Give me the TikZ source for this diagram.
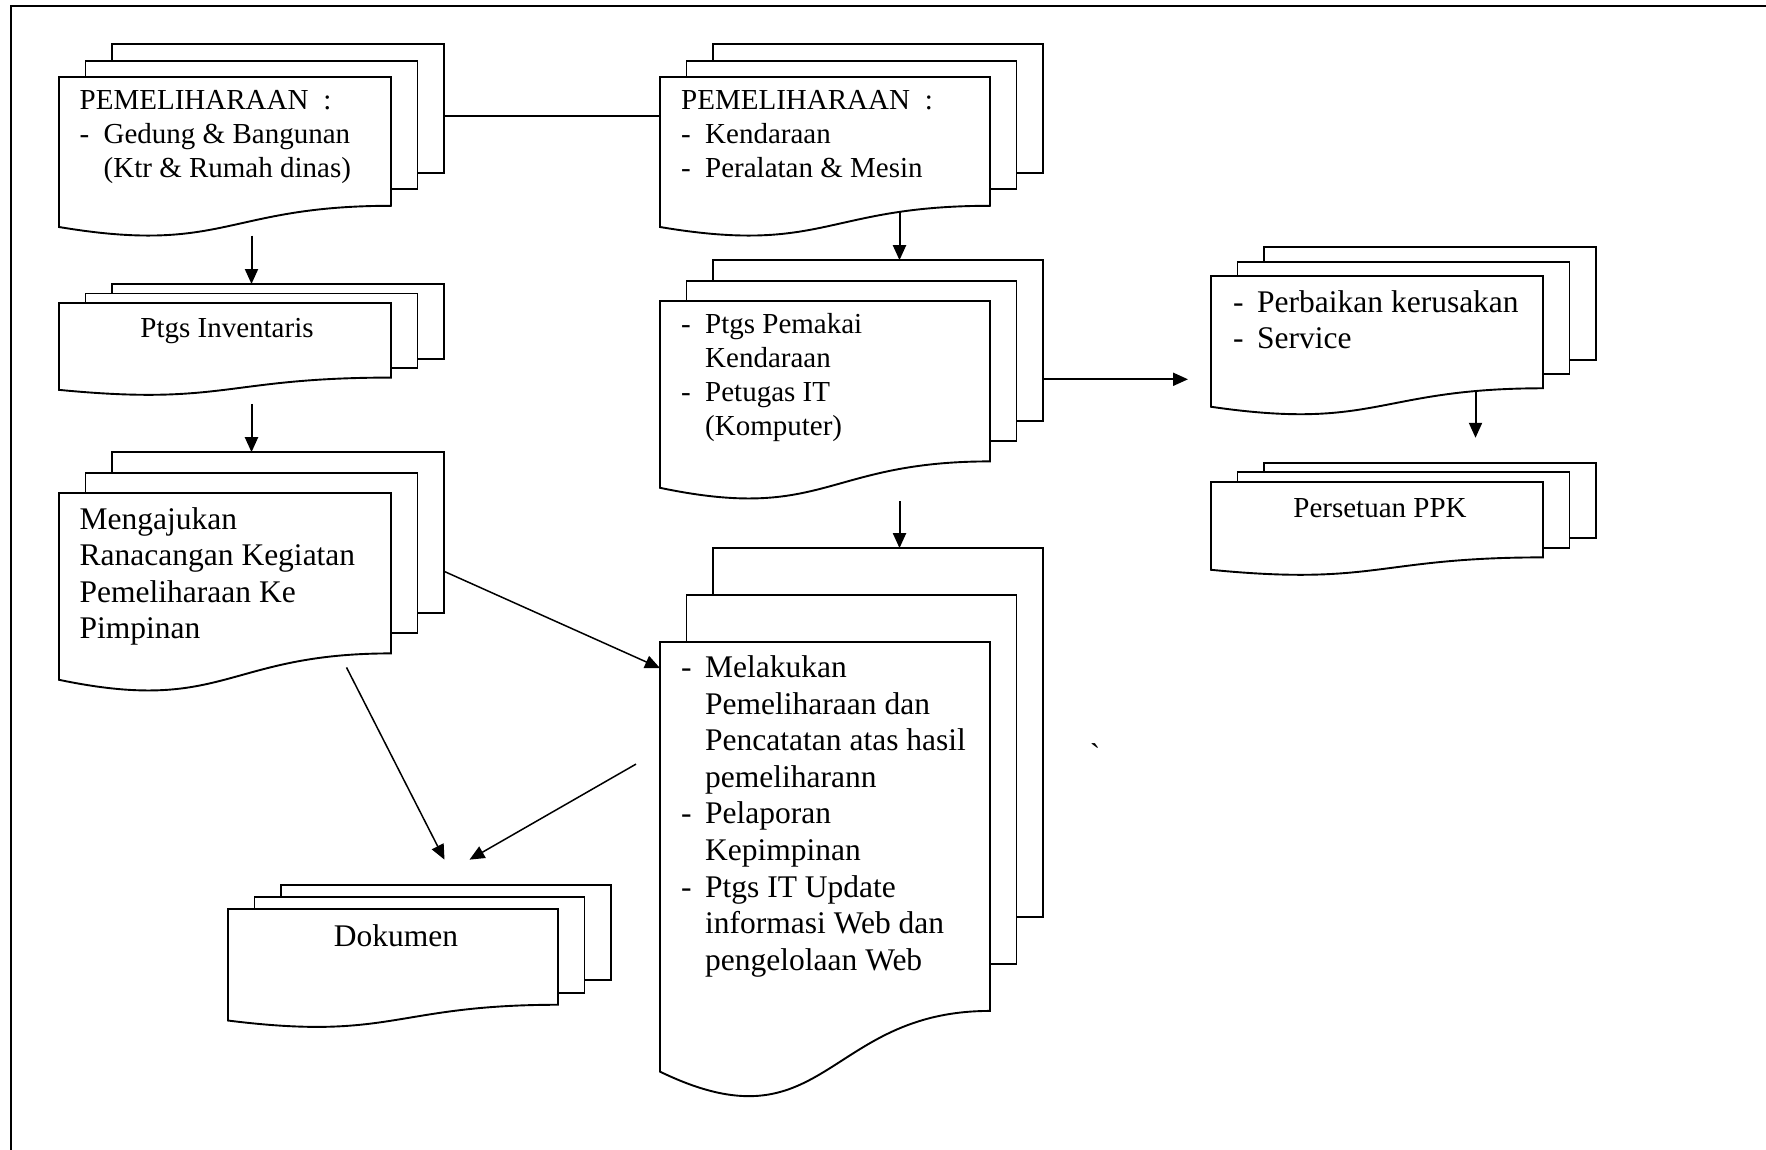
\documentclass[tikz,border=0pt]{standalone}
\usepackage{fontspec}
\setmainfont{Liberation Serif}
\usetikzlibrary{arrows.meta,calc}

\newcommand\itdash{\makebox[24pt][l]{-}}
\newcommand\itgap{\hspace*{24pt}}
% three stacked sheets: name, left, top, width, height
\newcommand\multidoc[5]{%
  \pgfmathsetmacro\shy{0.102*#5}%
  \pgfmathsetmacro\stw{#4+53}%
  \pgfmathsetmacro\sth{0.987*#5+2*\shy}%
  \draw[sheet] (#2+53,#3-2*\shy) rectangle ++(#4,0.802*#5);
  \draw[sheet] (#2+26.5,#3-\shy) rectangle ++(#4,0.802*#5);
  \draw[sheet] (#2,#3) -- ++(#4,0) -- ++(0,0.802*#5)
    .. controls +(-0.5*#4,0) and (#2+0.5*#4,#3+1.1075*#5) .. (#2,#3+0.934*#5) -- cycle;
  \node[stack,minimum width=\stw pt,minimum height=\sth pt] (#1)
    at (#2+\stw/2,#3-2*\shy+\sth/2) {};
}

\tikzset{
  sheet/.style={draw,fill=white,line width=1.9pt},
  stack/.style={rectangle,inner sep=0pt,outer sep=0pt},
  arr/.style={line width=2pt,-{Triangle[length=15pt,width=13pt]}},
  txt/.style={inner sep=0pt,anchor=base west},
  txtsmall/.style={font=\fontsize{29}{34}\selectfont},
  txtlarge/.style={font=\fontsize{31.5}{36.6}\selectfont},
}

\begin{document}
\begin{tikzpicture}[x=1pt,y=-1pt]
  \useasboundingbox (0,0) rectangle (1766,1150);
  \draw[line width=2pt] (11,1150) -- (11,6) -- (1766,6);

  \multidoc{gedung}{59}{77}{332}{160.6}
  \multidoc{kendaraan}{660}{77}{330}{160.6}
  \multidoc{inventaris}{59}{303}{332}{93}
  \multidoc{pemakai}{660}{301}{330}{200}
  \multidoc{rancangan}{59}{493}{332}{200}
  \multidoc{perbaikan}{1211}{276}{332}{140}
  \multidoc{melakukan}{660}{642}{330}{460}
  \multidoc{persetuan}{1211}{482}{332}{94}
  \multidoc{dokumen}{228}{909}{330}{119.4}

  \node[txt,txtsmall] (gedung-t) at (79.5,110) {\begin{tabular}[t]{@{}l@{}}
    PEMELIHARAAN\hspace{15pt}:\\ \itdash Gedung \& Bangunan\\
    \itgap(Ktr \& Rumah dinas)\end{tabular}};
  \node[txt,txtsmall] (kendaraan-t) at (681,110) {\begin{tabular}[t]{@{}l@{}}
    PEMELIHARAAN\hspace{15pt}:\\ \itdash Kendaraan\\
    \itdash Peralatan \& Mesin\end{tabular}};
  \node[txtsmall,inner sep=0pt,anchor=base] (inventaris-t) at (227,337) {Ptgs Inventaris};
  \node[txt,txtsmall] (pemakai-t) at (681,333) {\begin{tabular}[t]{@{}l@{}}
    \itdash Ptgs Pemakai\\ \itgap Kendaraan\\ \itdash Petugas IT\\
    \itgap(Komputer)\end{tabular}};
  \node[txt,txtlarge] (rancangan-t) at (79.5,529) {\begin{tabular}[t]{@{}l@{}}
    Mengajukan\\ Ranacangan Kegiatan\\ Pemeliharaan Ke\\ Pimpinan\end{tabular}};
  \node[txt,txtlarge] (perbaikan-t) at (1233,312) {\begin{tabular}[t]{@{}l@{}}
    \itdash Perbaikan kerusakan\\ \itdash Service\end{tabular}};
  \node[txt,txtlarge] (melakukan-t) at (681,677.5) {\begin{tabular}[t]{@{}l@{}}
    \itdash Melakukan\\ \itgap Pemeliharaan dan\\ \itgap Pencatatan atas hasil\\
    \itgap pemeliharann\\ \itdash Pelaporan\\ \itgap Kepimpinan\\
    \itdash Ptgs IT Update\\ \itgap informasi Web dan\\
    \itgap pengelolaan Web\end{tabular}};
  \node[txtsmall,inner sep=0pt,anchor=base] (persetuan-t) at (1380,517) {Persetuan PPK};
  \node[txtlarge,inner sep=0pt,anchor=base] (dokumen-t) at (396,946) {Dokumen};
  \node[txtlarge,inner sep=0pt] (tick) at (1095,755) {\textasciigrave};

  \draw[line width=2pt] ([yshift=24pt]gedung.east) -- ([yshift=24pt]kendaraan.west);
  \draw[arr] (gedung.south) -- (inventaris.north);
  \draw[arr,shorten <=9pt] (inventaris.south) -- (rancangan.north);
  \draw[arr] ([xshift=48pt,yshift=24pt]kendaraan.south) -- ([xshift=48pt]pemakai.north);
  \draw[arr,shorten <=3pt] ([xshift=48pt]pemakai.south) -- ([xshift=48pt]melakukan.north);
  \draw[arr,shorten >=23pt] (pemakai.east) -- (pemakai.east -| perbaikan.west);
  \draw[arr,shorten >=25pt] ([xshift=72pt,yshift=22pt]perbaikan.south)
    -- ([xshift=72pt]persetuan.north);
  \draw[arr,line width=1.5pt] (rancangan.east) -- ([yshift=154pt]melakukan.west);
  \draw[arr,line width=1.5pt] ([xshift=95pt,yshift=23pt]rancangan.south)
    -- ([xshift=25pt,yshift=25pt]dokumen.north);
  \draw[arr,line width=1.5pt] ([xshift=-24pt,yshift=58pt]melakukan.west)
    -- ([xshift=50pt,yshift=25pt]dokumen.north);
\end{tikzpicture}
\end{document}
